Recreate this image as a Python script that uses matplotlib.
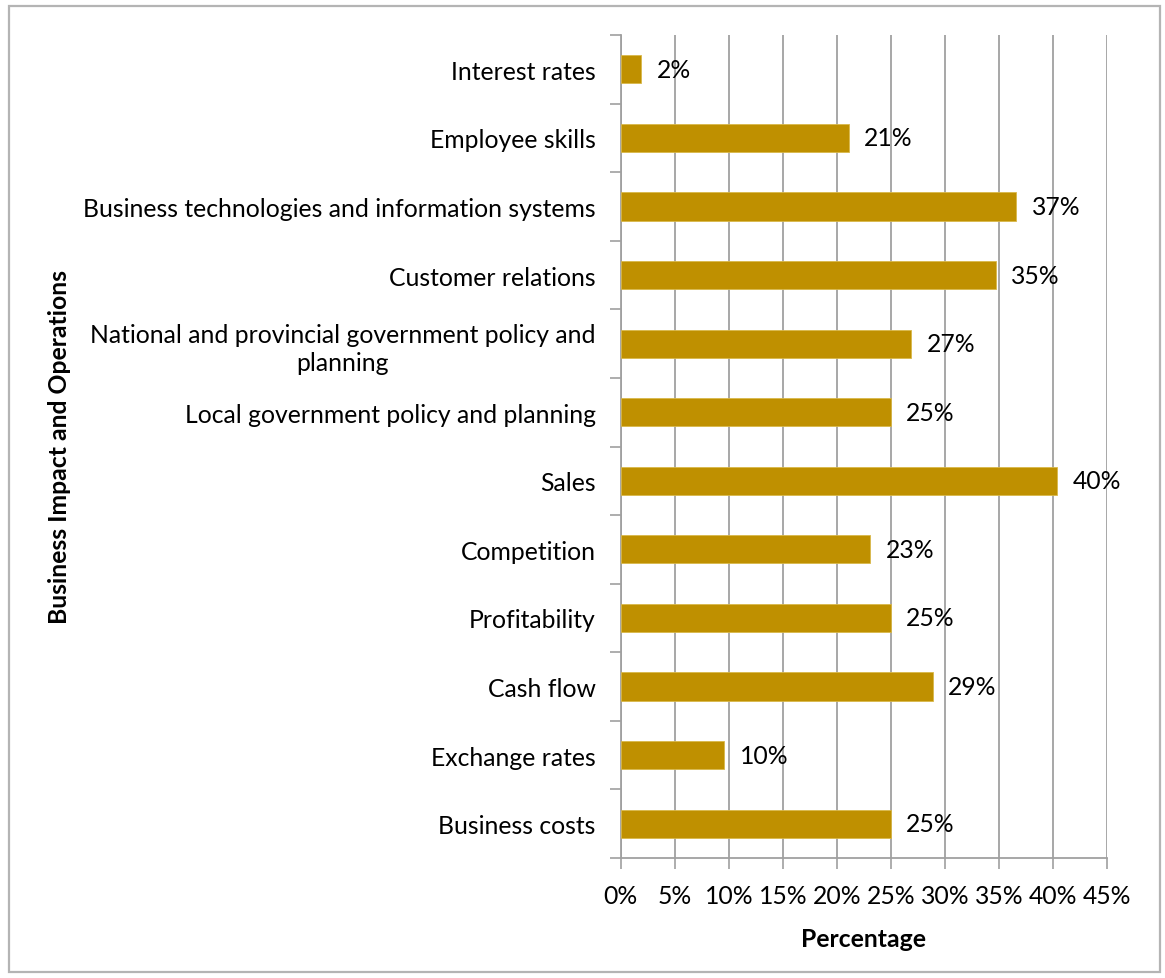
import numpy as np
import matplotlib
matplotlib.use("Agg")
import matplotlib.pyplot as plt
from matplotlib.patches import Rectangle

FS = 17.8
plt.rcParams.update({
    "font.family": ["Lato", "DejaVu Sans"],
    "font.size": FS,
})

# categories listed top to bottom as in the chart
categories = [
    "Interest rates",
    "Employee skills",
    "Business technologies and information systems",
    "Customer relations",
    "National and provincial government policy and\nplanning",
    "Local government policy and planning",
    "Sales",
    "Competition",
    "Profitability",
    "Cash flow",
    "Exchange rates",
    "Business costs",
]
values = [1.9, 21.1, 36.6, 34.7, 26.9, 25.0, 40.4, 23.1, 25.0, 28.9, 9.6, 25.0]
labels = ["2%", "21%", "37%", "35%", "27%", "25%", "40%", "23%", "25%", "29%", "10%", "25%"]
xticks = [0, 5, 10, 15, 20, 25, 30, 35, 40, 45]

BAR = "#bf9000"
AXIS = "#a0a0a0"

fig = plt.figure(figsize=(11.65, 9.79), dpi=100)
ax = fig.add_axes([620.7 / 1165, 1 - 859 / 979, 486.3 / 1165, 823 / 979])

# outer chart border
fig.patches.append(Rectangle((9 / 1165, 1 - 973 / 979), 1151 / 1165, 966 / 979,
                             transform=fig.transFigure, fill=False,
                             edgecolor="#b4b4b4", linewidth=1.6))

y = np.arange(len(categories))
ax.barh(y, values, height=0.41, color=BAR, edgecolor="#d9b84a", linewidth=0.6, zorder=3)

for yi, v, lab in zip(y, values, labels):
    ax.annotate(lab, xy=(v, yi), xytext=(11, 0), textcoords="offset points",
                ha="left", va="center", fontsize=FS, color="black", zorder=4)

ax.set_xlim(0, 45)
ax.set_ylim(len(categories) - 0.5, -0.5)
ax.set_xticks(xticks)
ax.set_xticklabels([f"{t}%" for t in xticks])
ax.set_yticks(y)
ax.set_yticklabels(categories, multialignment="center", linespacing=1.3)
ax.set_yticks(np.arange(len(categories) + 1) - 0.5, minor=True)

ax.tick_params(axis="y", which="major", length=0, pad=18)
ax.tick_params(axis="y", which="minor", length=8, color=AXIS, width=1.2)
ax.tick_params(axis="x", length=8, color=AXIS, width=1.2, pad=11)

ax.grid(True, axis="x", color=AXIS, linewidth=1.3, zorder=0)
ax.set_axisbelow(True)
for s in ["top", "right"]:
    ax.spines[s].set_visible(False)
for s in ["left", "bottom"]:
    ax.spines[s].set_color(AXIS)
    ax.spines[s].set_linewidth(1.3)

ax.set_xlabel("Percentage", fontsize=FS, fontweight="bold", labelpad=14)
fig.text(60 / 1165, 1 - 447 / 979, "Business Impact and Operations", rotation=90,
         ha="center", va="center", fontsize=FS, fontweight="bold")

fig.savefig("out.png", dpi=100)
